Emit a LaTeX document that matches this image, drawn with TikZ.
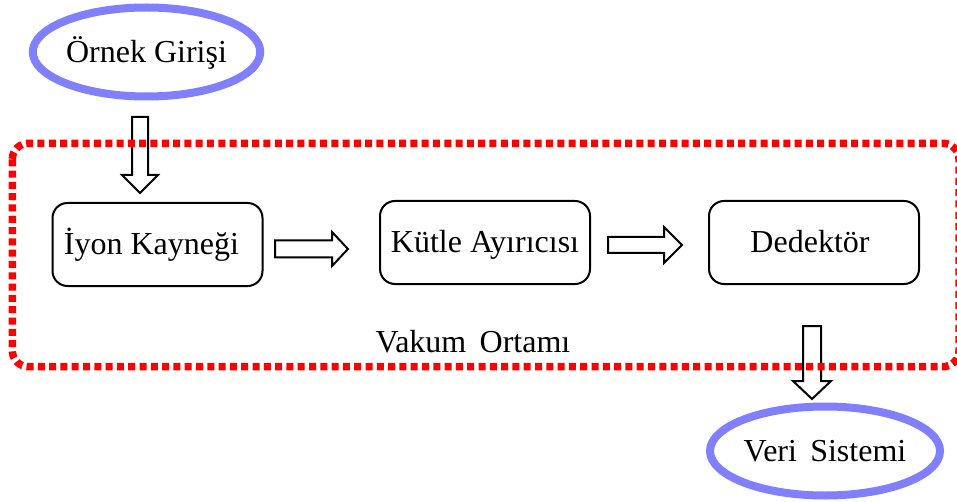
\documentclass[tikz,border=0pt]{standalone}
\usepackage{fontspec}
\setmainfont{Liberation Serif}
\usetikzlibrary{shapes.geometric}
\begin{document}
\begin{tikzpicture}[x=1pt,y=-1pt,
  every node/.style={font=\fontsize{32}{37}\selectfont, text height=21pt, text depth=0pt, inner sep=0pt},
  stepbox/.style={draw, line width=2pt, rounded corners=15pt, minimum width=210pt, minimum height=83pt},
  endpoint/.style={draw=ovalblue, line width=8pt, ellipse, minimum width=226pt, minimum height=89pt, fill=white},
  blockarrow/.style={draw, line width=2pt, fill=white, line join=miter},
  vakum/.style={draw=red, line width=7.5pt, dash pattern=on 7pt off 4.3pt, rounded corners=16pt}
]
\definecolor{ovalblue}{RGB}{128,128,255}
\useasboundingbox (0,0) rectangle (957,502);

\node[endpoint] (ornek) at (146.5,52) {Örnek Girişi};
\node[stepbox] (iyon) at (157.5,244.5) {\hspace*{-12pt}İyon Kayneği};
\node[stepbox] (kutle) at (485,242.5) {Kütle Ayırıcısı};
\node[stepbox] (dedektor) at (814,242.5) {\hspace*{-8pt}Dedektör};
\node[endpoint] (veri) at (825,451) {Veri\, Sistemi};
\node[anchor=base] (vakumtext) at (473,352) {Vakum\, Ortamı};

% block arrows
\draw[blockarrow] (132,117) -- (148,117) -- (148,175) -- (158,175) -- (140,193) -- (122,175) -- (132,175) -- cycle;
\draw[blockarrow] (275,240.5) -- (332,240.5) -- (332,232) -- (348,249) -- (332,266) -- (332,257.5) -- (275,257.5) -- cycle;
\draw[blockarrow] (608,237) -- (664,237) -- (664,227) -- (682,245) -- (664,263) -- (664,253) -- (608,253) -- cycle;
\draw[blockarrow] (803,326) -- (821,326) -- (821,381) -- (831,381) -- (812,399) -- (793,381) -- (803,381) -- cycle;

% vacuum boundary
\draw[vakum] (12.3,143.3) rectangle (959,366.7);
\end{tikzpicture}
\end{document}
